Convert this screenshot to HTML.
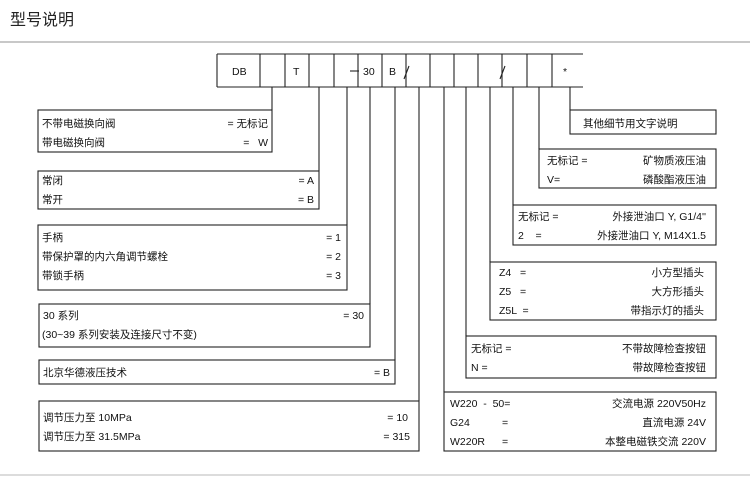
<!DOCTYPE html>
<html><head><meta charset="utf-8"><style>
html,body{margin:0;padding:0;background:#fff;}
svg text{font-family:"Liberation Sans","Noto Sans CJK SC",sans-serif;font-size:10.5px;fill:#111;white-space:pre;}
.t{font-size:16px;fill:#222;}
</style></head><body>
<svg width="750" height="477" viewBox="0 0 750 477" xmlns="http://www.w3.org/2000/svg">
<text class="t" x="10" y="25">型号说明</text>
<rect x="0" y="41" width="750" height="2" fill="#c8c8c8"/>
<rect x="0" y="474" width="750" height="2" fill="#dcdcdc"/>
<g stroke="#222" stroke-width="1.1" fill="none">
<line x1="217" y1="54" x2="583" y2="54"/>
<line x1="217" y1="87" x2="583" y2="87"/>
<path d="M217 54V87M260 54V87M285 54V87M309 54V87M334 54V87M358 54V87M382 54V87M406 54V87M430 54V87M454 54V87M478 54V87M502 54V87M527 54V87M552 54V87"/>
<path d="M272 87V110M319 87V171M347 87V225M370 87V304M395 87V360M419 87V401"/>
<path d="M444 87V392M466 87V336M490 87V262M513 87V205M539 87V149M570 87V110"/>
<rect x="38" y="110" width="234" height="42"/>
<rect x="38" y="171" width="281" height="38"/>
<rect x="38" y="225" width="309" height="65"/>
<rect x="39" y="304" width="331" height="43"/>
<rect x="39" y="360" width="356" height="24"/>
<rect x="39" y="401" width="380" height="50"/>
<rect x="570" y="110" width="146" height="24"/>
<rect x="539" y="149" width="177" height="39"/>
<rect x="513" y="205" width="203" height="40"/>
<rect x="490" y="262" width="226" height="58"/>
<rect x="466" y="336" width="250" height="42"/>
<rect x="444" y="392" width="272" height="59"/>
<line x1="350" y1="71" x2="359" y2="71"/>
<line x1="404" y1="79" x2="409" y2="66"/>
<line x1="500" y1="79" x2="505" y2="66"/>
</g>
<text x="232" y="75">DB</text>
<text x="293" y="75">T</text>
<text x="363" y="75">30</text>
<text x="389" y="75">B</text>
<text x="563" y="75">*</text>

<text x="42" y="127">不带电磁换向阀</text><text x="268" y="127" text-anchor="end">= 无标记</text>
<text x="42" y="146">带电磁换向阀</text><text x="268" y="146" text-anchor="end">=   W</text>
<text x="42" y="184">常闭</text><text x="314" y="184" text-anchor="end">= A</text>
<text x="42" y="203">常开</text><text x="314" y="203" text-anchor="end">= B</text>
<text x="42" y="241">手柄</text><text x="341" y="241" text-anchor="end">= 1</text>
<text x="42" y="260">带保护罩的内六角调节螺栓</text><text x="341" y="260" text-anchor="end">= 2</text>
<text x="42" y="279">带锁手柄</text><text x="341" y="279" text-anchor="end">= 3</text>
<text x="43" y="319">30 系列</text><text x="364" y="319" text-anchor="end">= 30</text>
<text x="42" y="338">(30~39 系列安装及连接尺寸不变)</text>
<text x="43" y="376">北京华德液压技术</text><text x="390" y="376" text-anchor="end">= B</text>
<text x="43" y="421">调节压力至 10MPa</text><text x="408" y="421" text-anchor="end">= 10</text>
<text x="43" y="440">调节压力至 31.5MPa</text><text x="410" y="440" text-anchor="end">= 315</text>

<text x="583" y="127">其他细节用文字说明</text>
<text x="547" y="164">无标记 =</text><text x="706" y="164" text-anchor="end">矿物质液压油</text>
<text x="547" y="183">V=</text><text x="706" y="183" text-anchor="end">磷酸酯液压油</text>
<text x="518" y="220">无标记 =</text><text x="706" y="220" text-anchor="end">外接泄油口 Y, G1/4''</text>
<text x="518" y="239">2    =</text><text x="706" y="239" text-anchor="end">外接泄油口 Y, M14X1.5</text>
<text x="499" y="276">Z4   =</text><text x="704" y="276" text-anchor="end">小方型插头</text>
<text x="499" y="295">Z5   =</text><text x="704" y="295" text-anchor="end">大方形插头</text>
<text x="499" y="314">Z5L  =</text><text x="704" y="314" text-anchor="end">带指示灯的插头</text>
<text x="471" y="352">无标记 =</text><text x="706" y="352" text-anchor="end">不带故障检查按钮</text>
<text x="471" y="371">N =</text><text x="706" y="371" text-anchor="end">带故障检查按钮</text>
<text x="450" y="407">W220  -  50=</text><text x="706" y="407" text-anchor="end">交流电源 220V50Hz</text>
<text x="450" y="426">G24</text><text x="502" y="426">=</text><text x="706" y="426" text-anchor="end">直流电源 24V</text>
<text x="450" y="445">W220R</text><text x="502" y="445">=</text><text x="706" y="445" text-anchor="end">本整电磁铁交流 220V</text>
</svg>
</body></html>
